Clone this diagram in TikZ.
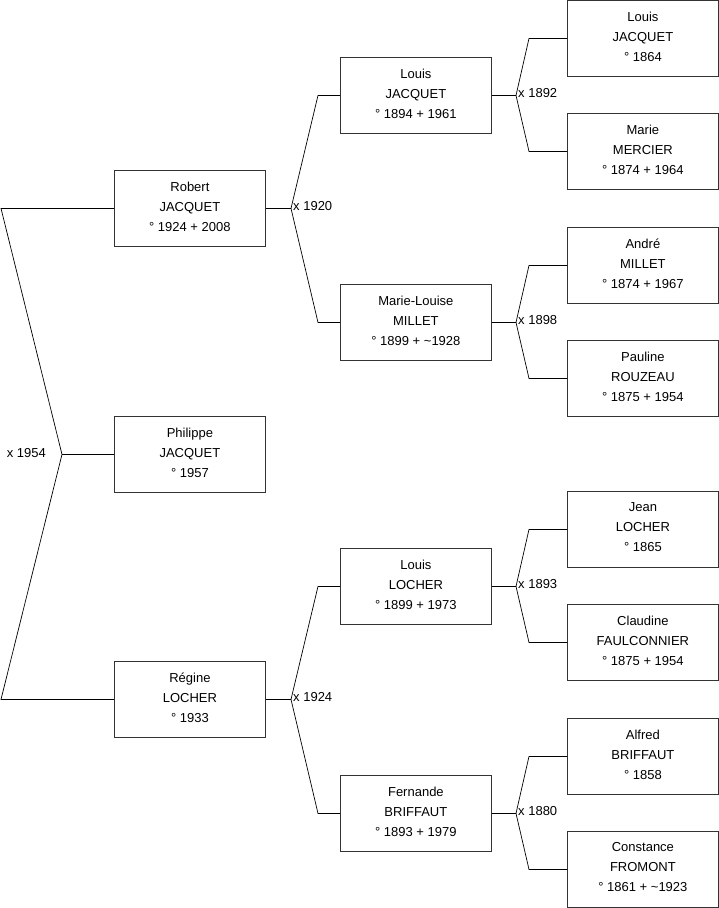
\documentclass[tikz,border=0pt]{standalone}
\usepackage{fontspec}
\setmainfont{Liberation Sans}
\begin{document}
\begin{tikzpicture}[x=1pt,y=-1pt,
  person/.style={draw=black!80,line width=0.8pt,minimum width=151pt,minimum height=76pt,inner sep=0pt,text depth=4pt,anchor=north west,align=center,font=\fontsize{13}{20}\selectfont},
  link/.style={draw=black,line width=0.7pt},
  mlabel/.style={font=\fontsize{13}{15}\selectfont,inner sep=0pt}]
\useasboundingbox (0,0) rectangle (719,908);
% column 1
\node[person] (robert) at (114,170) {Robert\\JACQUET\\° 1924 + 2008};
\node[person] (philippe) at (114,416) {Philippe\\JACQUET\\° 1957};
\node[person] (regine) at (114,661) {Régine\\LOCHER\\° 1933};
% column 2
\node[person] (louisj) at (340,57) {Louis\\JACQUET\\° 1894 + 1961};
\node[person] (marielouise) at (340,284) {Marie-Louise\\MILLET\\° 1899 + \textasciitilde1928};
\node[person] (louisl) at (340,548) {Louis\\LOCHER\\° 1899 + 1973};
\node[person] (fernande) at (340,775) {Fernande\\BRIFFAUT\\° 1893 + 1979};
% column 3
\node[person] (louisj2) at (567,0) {Louis\\JACQUET\\° 1864};
\node[person] (marie) at (567,113) {Marie\\MERCIER\\° 1874 + 1964};
\node[person] (andre) at (567,227) {André\\MILLET\\° 1874 + 1967};
\node[person] (pauline) at (567,340) {Pauline\\ROUZEAU\\° 1875 + 1954};
\node[person] (jean) at (567,491) {Jean\\LOCHER\\° 1865};
\node[person] (claudine) at (567,604) {Claudine\\FAULCONNIER\\° 1875 + 1954};
\node[person] (alfred) at (567,718) {Alfred\\BRIFFAUT\\° 1858};
\node[person] (constance) at (567,831) {Constance\\FROMONT\\° 1861 + \textasciitilde1923};
% top-level marriage
\path (robert.west) -| coordinate (a1) (1,0);
\path (regine.west) -| coordinate (a2) (1,0);
\path (philippe.west) -| coordinate (v0) (62,0);
\draw[link] (robert.west) -- (a1) -- (v0) -- (a2) -- (regine.west);
\draw[link] (v0) -- (philippe.west);
\node[mlabel,anchor=east] (m1954) at ([xshift=-16pt,yshift=1pt]v0) {x 1954};
% marriages
\foreach \c/\f/\m/\vx/\bx/\lab in {robert/louisj/marielouise/291/318/x 1920,
  regine/louisl/fernande/291/318/x 1924,
  louisj/louisj2/marie/516/529/x 1892,
  marielouise/andre/pauline/516/529/x 1898,
  louisl/jean/claudine/516/529/x 1893,
  fernande/alfred/constance/516/529/x 1880}{
  \coordinate (vv-\c) at (\vx,0);
  \path (\c.east) -| coordinate (vx-\c) (vv-\c);
  \coordinate (bf-\c) at (\bx,0);
  \path (\f.west) -| coordinate (tf-\c) (bf-\c);
  \path (\m.west) -| coordinate (tm-\c) (bf-\c);
  \draw[link] (\c.east) -- (vx-\c) -- (tf-\c) -- (\f.west);
  \draw[link] (vx-\c) -- (tm-\c) -- (\m.west);
  \node[mlabel,anchor=west] (lab-\c) at ([xshift=2pt,yshift=2pt]vx-\c) {\lab};
}
\end{tikzpicture}
\end{document}
